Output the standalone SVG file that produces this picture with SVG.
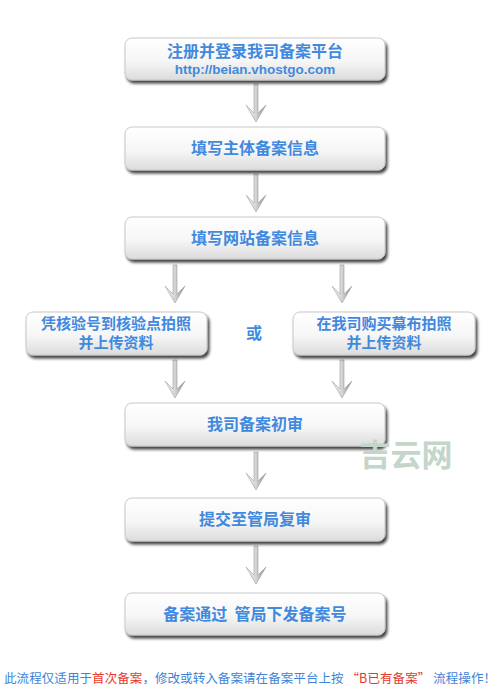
<svg xmlns="http://www.w3.org/2000/svg" width="500" height="692" viewBox="0 0 500 692">
<defs>
<linearGradient id="g" x1="0" y1="0" x2="0" y2="1">
<stop offset="0" stop-color="#ffffff"/>
<stop offset="0.55" stop-color="#f6f6f6"/>
<stop offset="1" stop-color="#dcdcdc"/>
</linearGradient>
<linearGradient id="ag" x1="0" y1="0" x2="1" y2="0">
<stop offset="0" stop-color="#f6f6f6"/>
<stop offset="0.5" stop-color="#d4d4d4"/>
<stop offset="1" stop-color="#8a8a8a"/>
</linearGradient>
<filter id="sh" x="-10%" y="-20%" width="120%" height="150%">
<feGaussianBlur in="SourceAlpha" stdDeviation="1.5"/>
<feOffset dx="1.5" dy="2.5"/>
<feComponentTransfer><feFuncA type="linear" slope="0.75"/></feComponentTransfer>
<feMerge><feMergeNode/><feMergeNode in="SourceGraphic"/></feMerge>
</filter>
<g id="arr">
<path d="M-2,0 L2,0 L2,29 L10,21 L0,38 L-10,21 L-2,29 Z" fill="url(#ag)" stroke="#a0a0a0" stroke-width="0.6"/>
</g>
</defs>
<style>
.box{fill:url(#g);stroke:#c8c8c8;stroke-width:1;filter:url(#sh)}
.t{font-family:"Noto Sans CJK SC","Liberation Sans",sans-serif;font-size:16px;font-weight:bold;fill:#4189de;text-anchor:middle;white-space:pre}
.s{font-size:15px}
.u{font-family:"Liberation Sans","DejaVu Sans",sans-serif;font-size:13.5px;font-weight:bold;fill:#4189de;text-anchor:middle}
.n{font-family:"Noto Sans CJK SC",sans-serif;font-size:12.5px;fill:#3d83d8}
.r{fill:#e8372c}
</style>
<rect width="500" height="692" fill="#ffffff"/>
<g id="connectors">
<use href="#arr" x="256" y="84"/>
<use href="#arr" x="256" y="174"/>
<use href="#arr" x="175" y="265"/>
<use href="#arr" x="342" y="265"/>
<use href="#arr" x="175" y="360"/>
<use href="#arr" x="342" y="360"/>
<use href="#arr" x="256" y="452"/>
<use href="#arr" x="256" y="546"/>
</g>
<g id="n1"><rect class="box" x="125" y="38" width="260" height="42" rx="7"/>
<text class="t" x="255" y="57">注册并登录我司备案平台</text>
<text class="u" x="255" y="74">http://beian.vhostgo.com</text></g>
<g id="n2"><rect class="box" x="125" y="127" width="260" height="43" rx="7"/>
<text class="t" x="255" y="154">填写主体备案信息</text></g>
<g id="n3"><rect class="box" x="125" y="217" width="260" height="42" rx="7"/>
<text class="t" x="255" y="244">填写网站备案信息</text></g>
<g id="n4"><rect class="box" x="26" y="312" width="181" height="43" rx="7"/>
<text class="t s" x="116" y="329">凭核验号到核验点拍照</text>
<text class="t s" x="116" y="348">并上传资料</text></g>
<g id="or"><text class="t" x="254" y="339">或</text></g>
<g id="n5"><rect class="box" x="293" y="312" width="182" height="43" rx="7"/>
<text class="t s" x="384" y="329">在我司购买幕布拍照</text>
<text class="t s" x="384" y="348">并上传资料</text></g>
<g id="n6"><rect class="box" x="125" y="403" width="260" height="43" rx="7"/>
<text class="t" x="255" y="430">我司备案初审</text></g>
<g id="n7"><rect class="box" x="125" y="498" width="260" height="43" rx="7"/>
<text class="t" x="255" y="525">提交至管局复审</text></g>
<g id="n8"><rect class="box" x="125" y="593" width="260" height="42" rx="7"/>
<text class="t" x="255" y="620">备案通过  管局下发备案号</text></g>
<text x="406" y="466" font-family="Noto Sans CJK SC,sans-serif" font-size="31" font-weight="bold" fill="#c4d6ca" text-anchor="middle">吉云网</text>
<text class="n" x="4" y="683" textLength="492" lengthAdjust="spacing">此流程仅适用于<tspan class="r">首次备案</tspan>，修改或转入备案请在备案平台上按 <tspan class="r">“B已有备案”</tspan> 流程操作！</text>
</svg>
